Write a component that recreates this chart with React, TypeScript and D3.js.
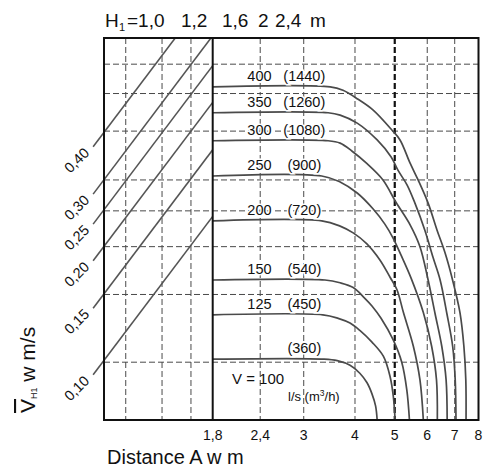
import React from 'react';
import * as d3 from 'd3';

// distance axis (m), log scale
const distTicks = [1.8, 2.35, 3, 4, 5, 6, 7, 8];
const distTickLabels = ['1,8', '2,4', '3', '4', '5', '6', '7', '8'];
const distGrid = [2.35, 3, 4, 6, 7];
const distGridBold = [5];

// velocity grid (m/s), log scale
const speedGrid = [0.661, 0.553, 0.44, 0.327, 0.271, 0.218, 0.163, 0.108];

// left nomogram part
const leftGrid = [2, 5.34, 8];
const speedStarts = [0.1, 0.15, 0.2, 0.25, 0.3, 0.4];
const speedLabels = ['0,10', '0,15', '0,20', '0,25', '0,30', '0,40'];
const speedRise = 2.62;

// flow curves: [distance m, velocity m/s]
const flows = ['100', '125', '150', '200', '250', '300', '350', '400'];
const flowsM3h = ['(360)', '(450)', '(540)', '(720)', '(900)', '(1080)', '(1260)', '(1440)'];
const curve100 = [[1.8, 0.110], [3.36, 0.110], [3.62, 0.109], [3.89, 0.106], [4.11, 0.101], [4.28, 0.0953], [4.40, 0.0891], [4.49, 0.0828], [4.53, 0.076]];
const curve125 = [[1.8, 0.144], [3.34, 0.144], [3.64, 0.141], [3.89, 0.137], [4.11, 0.131], [4.40, 0.122], [4.69, 0.112], [4.87, 0.099], [4.96, 0.0877], [5.01, 0.076]];
const curve150 = [[1.8, 0.178], [3.38, 0.178], [3.68, 0.175], [3.96, 0.170], [4.21, 0.160], [4.40, 0.152], [4.63, 0.141], [4.95, 0.124], [5.20, 0.108], [5.35, 0.0913], [5.43, 0.076]];
const curve200 = [[1.8, 0.255], [3.32, 0.255], [3.68, 0.247], [3.96, 0.237], [4.27, 0.222], [4.60, 0.201], [4.87, 0.181], [5.06, 0.168], [5.25, 0.146], [5.55, 0.119], [5.76, 0.097], [5.87, 0.076]];
const curve250 = [[1.8, 0.335], [3.32, 0.335], [3.68, 0.323], [4.05, 0.302], [4.43, 0.274], [4.73, 0.250], [4.95, 0.230], [5.18, 0.207], [5.48, 0.180], [5.87, 0.146], [6.15, 0.119], [6.32, 0.097], [6.35, 0.076]];
const curve300 = [[1.8, 0.415], [3.44, 0.415], [3.68, 0.409], [3.93, 0.390], [4.28, 0.361], [4.68, 0.327], [5.03, 0.286], [5.45, 0.249], [5.76, 0.218], [6.03, 0.178], [6.27, 0.145], [6.51, 0.119], [6.67, 0.097], [6.71, 0.076]];
const curve350 = [[1.8, 0.492], [3.44, 0.492], [3.68, 0.485], [4.05, 0.462], [4.53, 0.417], [4.90, 0.376], [5.09, 0.347], [5.36, 0.317], [5.60, 0.284], [5.92, 0.241], [6.20, 0.204], [6.45, 0.178], [6.70, 0.145], [6.92, 0.119], [7.02, 0.097], [7.05, 0.076]];
const curve400 = [[1.8, 0.576], [3.48, 0.576], [3.74, 0.564], [4.07, 0.534], [4.43, 0.500], [4.92, 0.443], [5.15, 0.417], [5.45, 0.362], [5.70, 0.327], [6.03, 0.284], [6.34, 0.241], [6.63, 0.210], [6.89, 0.181], [7.21, 0.146], [7.37, 0.119], [7.45, 0.097], [7.46, 0.076]];
const curves = [curve100, curve125, curve150, curve200, curve250, curve300, curve350, curve400];

const FONT = 'Liberation Sans, Arial, Helvetica, sans-serif';
const W = 486;
const H = 468;
const frame = { left: 104, right: 478.5, top: 38, bottom: 420 };
const split = 212.7;

export default function App() {
  const x = d3.scaleLog().domain([1.8, 8]).range([split, frame.right]);
  const y = d3.scaleLog().domain([0.076, 0.775]).range([frame.bottom, frame.top]);
  const hx = d3.scaleLinear().domain([0, 10]).range([frame.left, split]);

  const line = d3.line<number[]>()
    .x(d => x(d[0]))
    .y(d => y(d[1]))
    .curve(d3.curveCatmullRom.alpha(0.5));

  const gridColor = '#4a4a4a';
  const labelX = x(2.34);
  const m3hX = x(3.01);

  return (
    <svg width={W} height={H} style={{ position: 'absolute', left: 0, top: 0, background: '#fff' }} fontFamily={FONT}>
      <defs>
        <clipPath id="leftClip">
          <rect x={hx(-1.5)} y={frame.top} width={split - hx(-1.5)} height={frame.bottom - frame.top} />
        </clipPath>
      </defs>

      {/* horizontal grid */}
      {speedGrid.map((v, i) => (
        <line key={'hg' + i} x1={frame.left} x2={frame.right} y1={y(v)} y2={y(v)}
          stroke={gridColor} strokeWidth={1} strokeDasharray="6,3" />
      ))}
      {/* vertical grid, left part */}
      {leftGrid.map((u, i) => (
        <line key={'lg' + i} x1={hx(u)} x2={hx(u)} y1={frame.top} y2={frame.bottom}
          stroke={gridColor} strokeWidth={1} strokeDasharray="6,3" />
      ))}
      {/* vertical grid, distance */}
      {distGrid.map((d, i) => (
        <line key={'dg' + i} x1={x(d)} x2={x(d)} y1={frame.top} y2={frame.bottom}
          stroke={gridColor} strokeWidth={1} strokeDasharray="6,3" />
      ))}
      {distGridBold.map((d, i) => (
        <line key={'db' + i} x1={x(d)} x2={x(d)} y1={frame.top} y2={frame.bottom}
          stroke="#111" strokeWidth={2.2} strokeDasharray="6,3" />
      ))}

      {/* diagonal velocity lines */}
      <g clipPath="url(#leftClip)">
        {speedStarts.map((v, i) => (
          <line key={'sl' + i} x1={hx(-1)} y1={y(v)} x2={hx(10)} y2={y(v * speedRise)}
            stroke="#555" strokeWidth={1.6} />
        ))}
      </g>
      {speedStarts.map((v, i) => (
        <text key={'st' + i} transform={`translate(${hx(-1) - 3},${y(v) + 7}) rotate(-45)`}
          textAnchor="end" fontSize={14.5} fill="#111">{speedLabels[i]}</text>
      ))}

      {/* flow curves */}
      {curves.map((c, i) => (
        <path key={'c' + i} d={line(c as number[][]) || ''} fill="none" stroke="#4a4a4a" strokeWidth={1.7} />
      ))}
      {curves.map((c, i) => (
        <g key={'cl' + i} fontSize={14.5} fill="#111" stroke="#fff" strokeWidth={3} style={{ paintOrder: 'stroke' }}>
          {i > 0 && <text x={labelX} y={y(c[0][1]) - 6} textAnchor="middle">{flows[i]}</text>}
          <text x={m3hX} y={y(c[0][1]) - 6} textAnchor="middle">{flowsM3h[i]}</text>
        </g>
      ))}
      <text x={232} y={384} fontSize={15} fill="#111">V = {flows[0]}</text>
      <text x={288} y={401} fontSize={13} fill="#111">
        <tspan>l/s (m</tspan>
        <tspan fontSize={8.5} dy={-5}>3</tspan>
        <tspan fontSize={13} dy={5}>/h)</tspan>
      </text>

      {/* frame */}
      <rect x={frame.left} y={frame.top} width={frame.right - frame.left} height={frame.bottom - frame.top}
        fill="none" stroke="#111" strokeWidth={2} />
      <line x1={split} x2={split} y1={frame.top} y2={frame.bottom} stroke="#111" strokeWidth={2} />

      {/* distance tick labels */}
      {distTicks.map((d, i) => (
        <text key={'dt' + i} x={x(d)} y={440} textAnchor="middle" fontSize={14} fill="#111">{distTickLabels[i]}</text>
      ))}
      <text x={107} y={463.5} fontSize={20} fill="#111">Distance A w m</text>

      {/* title */}
      <g fontSize={19} fill="#111">
        <text x={105} y={27}>H</text>
        <text x={119} y={31} fontSize={11}>1</text>
        <text x={127} y={27}>=1,0</text>
        <text x={181} y={27}>1,2</text>
        <text x={222} y={27}>1,6</text>
        <text x={258} y={27}>2</text>
        <text x={275} y={27}>2,4</text>
        <text x={310} y={27}>m</text>
      </g>

      {/* y axis label */}
      <text transform="translate(35,413) rotate(-90)" fontSize={21} fill="#111">
        <tspan style={{ textDecoration: 'overline' }}>V</tspan>
        <tspan fontSize={9} dy={2}>H1</tspan>
        <tspan dy={-2}> w m/s</tspan>
      </text>
    </svg>
  );
}
